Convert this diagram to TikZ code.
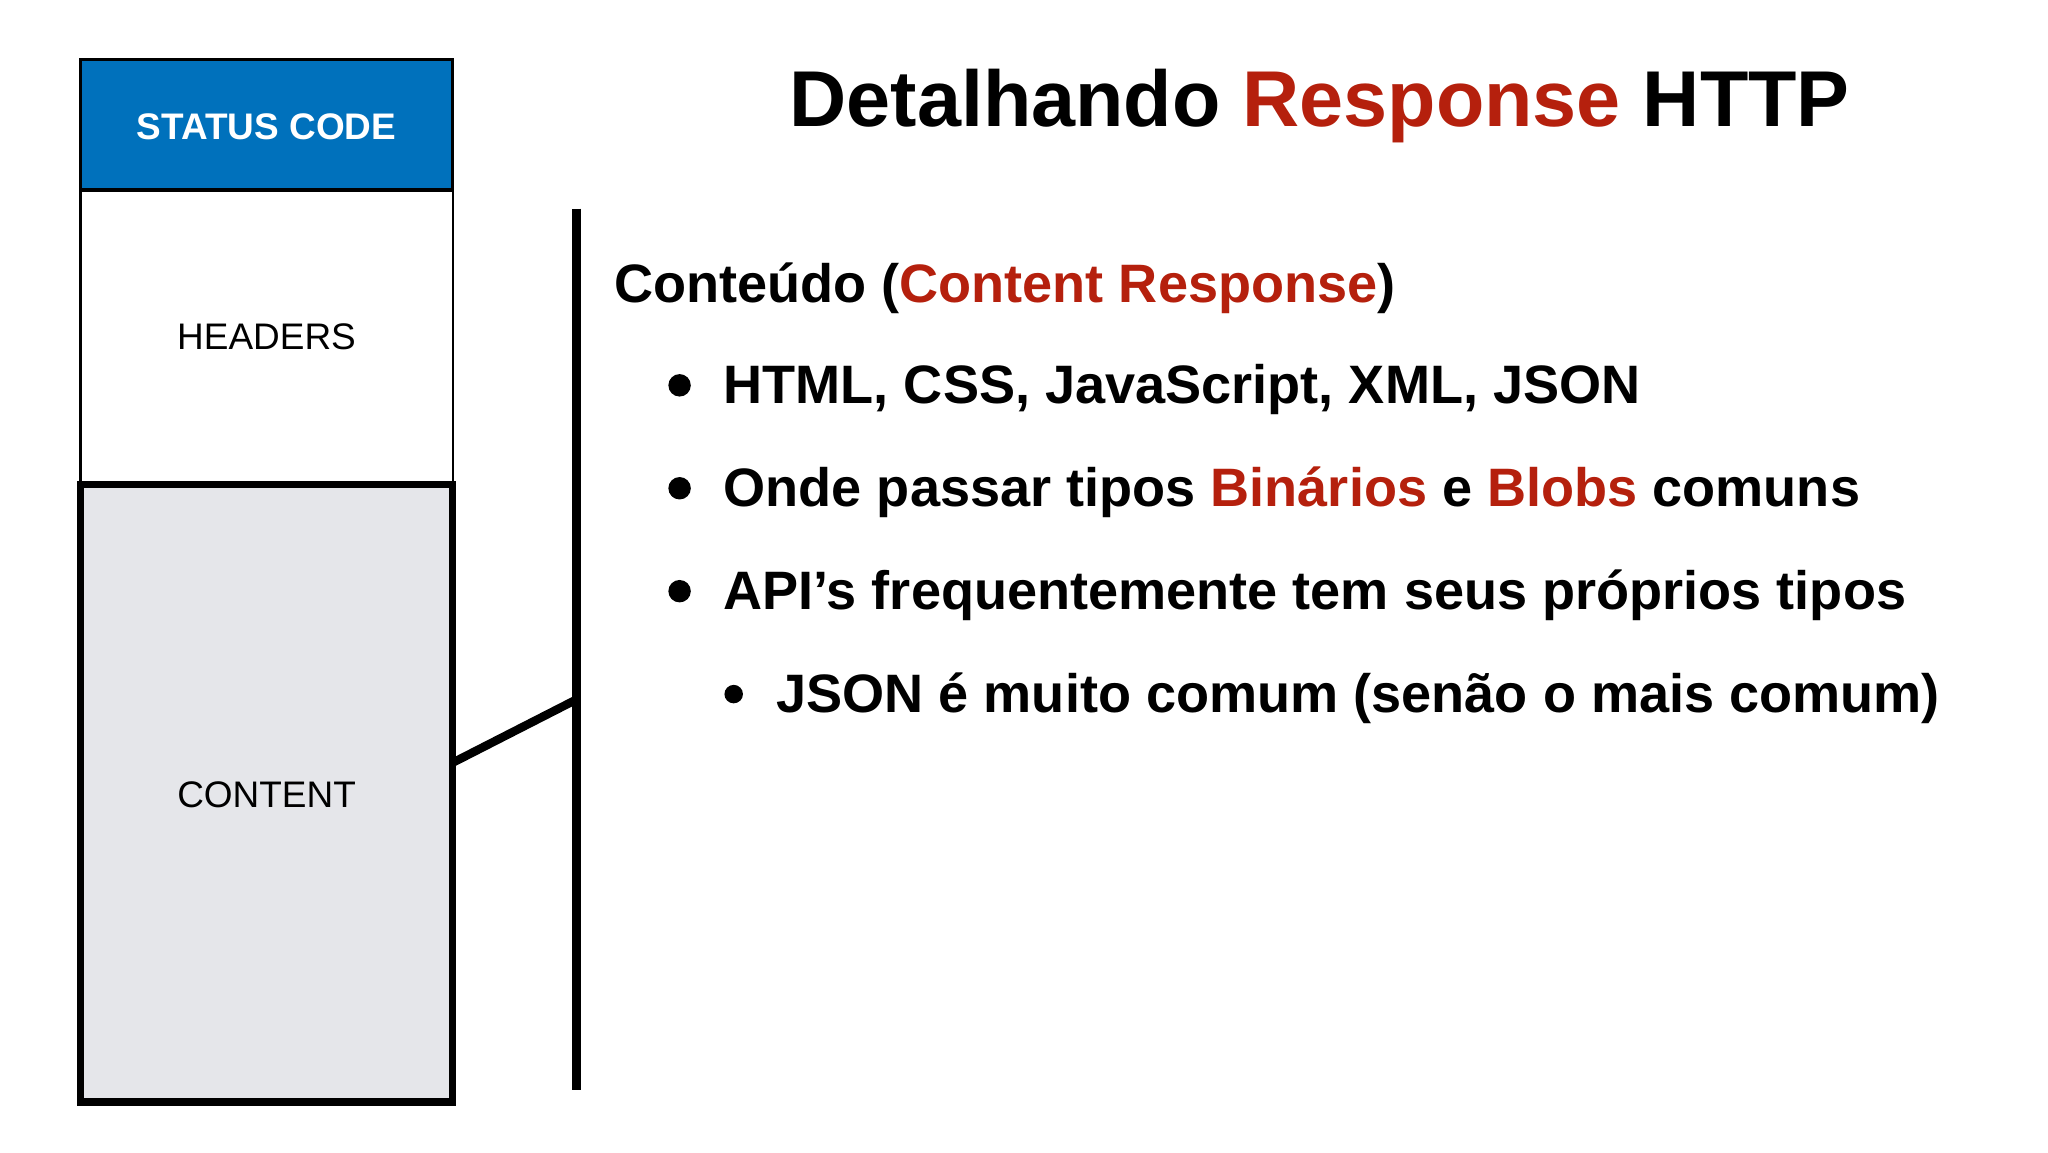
\documentclass[tikz,border=0pt]{standalone}
\usepackage{fontspec}
\setmainfont{Liberation Sans}
\definecolor{sblue}{HTML}{0071BC}
\definecolor{cgray}{HTML}{E5E6EA}
\definecolor{hred}{HTML}{B5200D}
\tikzset{
  boxlbl/.style={font=\fontsize{14}{16}\selectfont},
  body/.style={anchor=base west,inner sep=0pt,font=\fontsize{20.5}{24}\selectfont\bfseries},
  dot/.style={circle,fill=black,inner sep=0pt,minimum size=8.5pt}
}
\begin{document}
\begin{tikzpicture}[x=0.5pt,y=-0.5pt]
\useasboundingbox (0,0) rectangle (1552,873);
\fill[white] (0,0) rectangle (1552,873);
\draw[fill=sblue,line width=1.2pt] (61,45) rectangle (343,144);
\node[boxlbl,text=white,font=\fontsize{14}{16}\selectfont\bfseries] (sc) at (202,96) {STATUS CODE};
\draw[line width=0.8pt] (61,144) rectangle (343,366);
\node[boxlbl] (hd) at (202,255) {HEADERS};
\draw[fill=cgray,line width=2.8pt] (61,367) rectangle (343,835);
\node[boxlbl] (ct) at (202,602) {CONTENT};
\coordinate (cr) at (343,578);
\coordinate (vt) at (437,158);
\coordinate (vm) at (437,530);
\coordinate (vb) at (437,826);
\draw[line width=3.2pt] (vt) -- (vb);
\draw[line width=3.2pt] (cr) -- (vm);
\node[anchor=base,inner sep=0pt,font=\fontsize{30}{34}\selectfont\bfseries] (title) at (1000,96) {Detalhando \textcolor{hred}{Response} HTTP};
\node[body] (c0) at (465,229) {Conteúdo (\textcolor{hred}{Content Response})};
\node[dot] (d1) at (515,292) {};
\node[body] (c1) at (548,306) {HTML, CSS, JavaScript, XML, JSON};
\node[dot] (d2) at (515,370) {};
\node[body] (c2) at (548,384) {Onde passar tipos \textcolor{hred}{Binários} e \textcolor{hred}{Blobs} comuns};
\node[dot] (d3) at (515,448) {};
\node[body] (c3) at (548,462) {API’s frequentemente tem seus próprios tipos};
\node[dot,minimum size=7pt] (d4) at (556,526) {};
\node[body] (c4) at (588,540) {JSON é muito comum (senão o mais comum)};
\end{tikzpicture}
\end{document}
